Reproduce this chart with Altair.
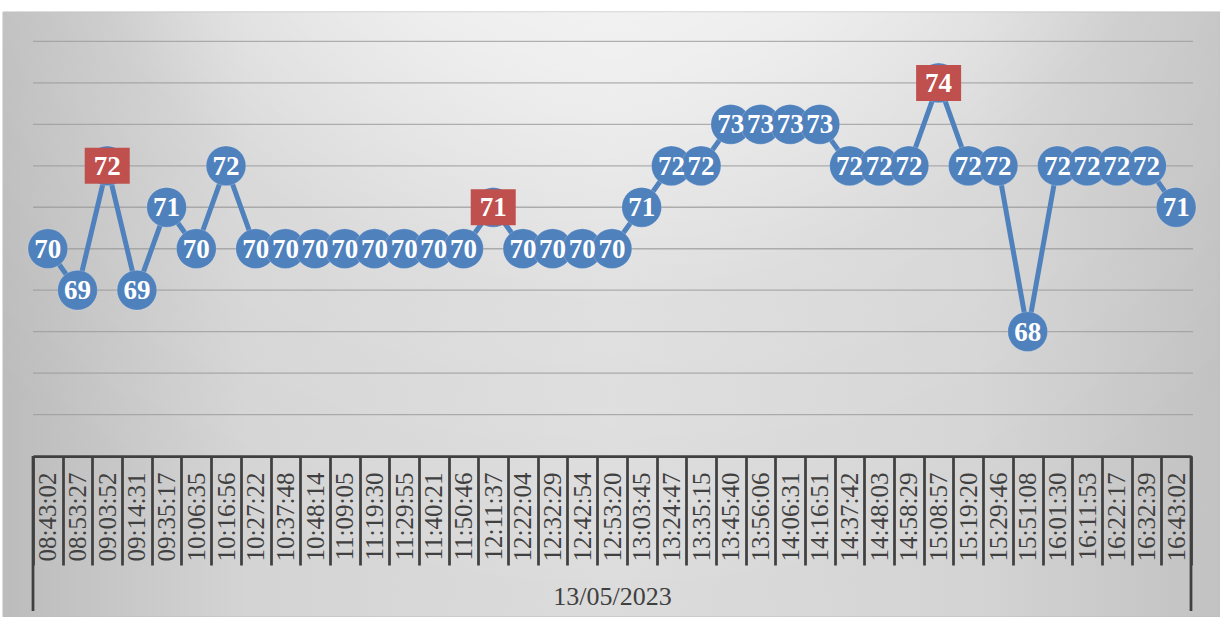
import altair as alt
import pandas as pd

# Reading times on 13/05/2023 and the recorded values
times = [
    "08:43:02", "08:53:27", "09:03:52", "09:14:31", "09:35:17", "10:06:35",
    "10:16:56", "10:27:22", "10:37:48", "10:48:14", "11:09:05", "11:19:30",
    "11:29:55", "11:40:21", "11:50:46", "12:11:37", "12:22:04", "12:32:29",
    "12:42:54", "12:53:20", "13:03:45", "13:24:47", "13:35:15", "13:45:40",
    "13:56:06", "14:06:31", "14:16:51", "14:37:42", "14:48:03", "14:58:29",
    "15:08:57", "15:19:20", "15:29:46", "15:51:08", "16:01:30", "16:11:53",
    "16:22:17", "16:32:39", "16:43:02",
]
values = [
    70, 69, 72, 69, 71, 70, 72, 70, 70, 70, 70, 70, 70, 70, 70, 71, 70, 70,
    70, 70, 71, 72, 72, 73, 73, 73, 73, 72, 72, 72, 74, 72, 72, 68, 72, 72,
    72, 72, 71,
]
# Readings whose labels are drawn on a red box
highlighted = ["09:03:52", "12:11:37", "15:08:57"]
date_label = "13/05/2023"
grid_values = [66, 67, 68, 69, 70, 71, 72, 73, 74, 75]

df = pd.DataFrame({"time": times, "value": values})
df["highlight"] = df["time"].isin(highlighted)

W, H = 1158, 456
BLUE = "#4f81bd"
RED = "#c0504d"
AXIS_DARK = "#404040"
SERIF = "Liberation Serif"

y_scale = alt.Scale(domain=[65, 76], nice=False, zero=False)

x_enc = alt.X(
    "time:N",
    sort=None,
    scale=alt.Scale(type="band", paddingInner=0, paddingOuter=0),
    axis=alt.Axis(
        title=date_label,
        titleFont=SERIF,
        titleFontSize=26,
        titleFontWeight="normal",
        titleColor=AXIS_DARK,
        titleY=148,
        titleBaseline="alphabetic",
        labelAngle=270,
        labelFont=SERIF,
        labelFontSize=25,
        labelColor=AXIS_DARK,
        labelPadding=-93,
        labelOverlap=False,
        labelBound=False,
        labelFlush=False,
        domainColor=AXIS_DARK,
        domainWidth=2.75,
        tickColor=AXIS_DARK,
        tickWidth=2.75,
        tickSize=109,
        tickBand="extent",
        grid=False,
        zindex=1,
    ),
)
y_enc = alt.Y("value:Q", scale=y_scale, axis=None)

one_row = alt.Data(values=[{}])

# Chart area background: grey at the sides, brighter towards the top centre
bg_base = alt.Chart(one_row).mark_rect(
    fill={
        "gradient": "linear",
        "x1": 0, "y1": 0, "x2": 1, "y2": 0,
        "stops": [
            {"offset": 0.0, "color": "#bcbcbc"},
            {"offset": 0.2, "color": "#d4d4d4"},
            {"offset": 0.5, "color": "#dcdcdc"},
            {"offset": 0.8, "color": "#d4d4d4"},
            {"offset": 1.0, "color": "#c2c2c2"},
        ],
    },
    stroke="#bdbdbd",
    strokeWidth=1,
).encode(
    x=alt.value(-30), x2=alt.value(1187), y=alt.value(12), y2=alt.value(617)
)

bg_glow = alt.Chart(one_row).mark_rect(
    fill={
        "gradient": "radial",
        "x1": 0.5, "y1": 0.0, "r1": 0,
        "x2": 0.5, "y2": 0.0, "r2": 0.75,
        "stops": [
            {"offset": 0.0, "color": "rgba(255,255,255,0.9)"},
            {"offset": 0.4, "color": "rgba(255,255,255,0.55)"},
            {"offset": 0.65, "color": "rgba(255,255,255,0.12)"},
            {"offset": 1.0, "color": "rgba(255,255,255,0)"},
        ],
    },
).encode(
    x=alt.value(-30), x2=alt.value(1187), y=alt.value(12), y2=alt.value(617)
)

# Horizontal gridlines
grid = alt.Chart(pd.DataFrame({"g": grid_values})).mark_rule(
    color="#9a9a9a", strokeWidth=1.3, opacity=0.75
).encode(
    y=alt.Y("g:Q", scale=y_scale, axis=None),
    x=alt.value(0),
    x2=alt.value(1160),
)

# Long outer ticks of the date level of the category axis
left_edge = alt.Chart(one_row).mark_rule(color=AXIS_DARK, strokeWidth=2.75).encode(
    x=alt.value(0), y=alt.value(H), y2=alt.value(611)
)
right_edge = alt.Chart(one_row).mark_rule(color=AXIS_DARK, strokeWidth=2.75).encode(
    x=alt.value(W), y=alt.value(H), y2=alt.value(611)
)

base = alt.Chart(df).encode(x=x_enc, y=y_enc)

line = base.mark_line(color=BLUE, strokeWidth=5, strokeJoin="round")

dots = base.mark_circle(
    size=1580, color=BLUE, opacity=1, stroke="#ffffff", strokeWidth=0.8,
    strokeOpacity=0.25,
)

boxes = base.transform_filter("datum.highlight").mark_point(
    shape="M-1,-0.8L1,-0.8L1,0.8L-1,0.8Z",
    size=2025,
    filled=True,
    color=RED,
    opacity=1,
    strokeWidth=0,
)

labels = base.mark_text(
    font=SERIF, fontSize=27, fontWeight="bold", color="white",
    baseline="middle", dy=1,
).encode(text="value:Q")

chart = alt.layer(
    bg_base, bg_glow, grid, left_edge, right_edge, line, dots, boxes, labels
).properties(
    width=W,
    height=H,
    padding={"left": 33, "top": 0, "right": 29, "bottom": 161},
    autosize=alt.AutoSizeParams(type="none"),
    background="white",
).configure_view(stroke=None)

chart.save("out.html", embed_options={"renderer": "svg", "actions": False})
